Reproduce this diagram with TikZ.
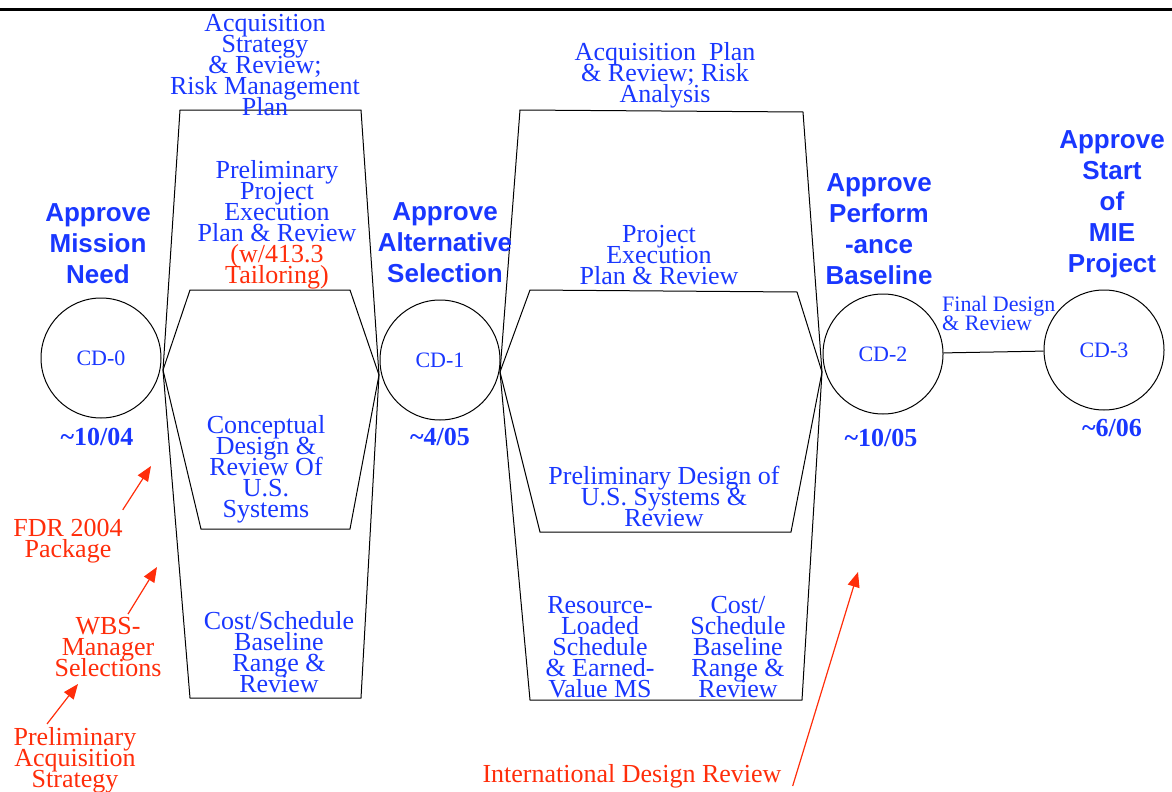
\documentclass[tikz,border=0pt]{standalone}
\usepackage{fontspec}
\setmainfont{Liberation Serif}
\newfontfamily\headfont{Liberation Sans}
\usepackage{tikz}
\usetikzlibrary{arrows.meta}

\definecolor{cdblue}{RGB}{25,55,255}
\definecolor{notered}{RGB}{255,45,10}

% tight line spacing, lines may touch
\newcommand{\tightlines}[2]{\fontsize{#1}{#2}\selectfont\lineskiplimit=-50pt\lineskip=0pt}

\begin{document}
\begin{tikzpicture}[x=1pt,y=-1pt,
    phase/.style={draw=black,line width=1pt},
    milestone/.style={circle,draw=black,line width=1pt,minimum size=120pt,inner sep=0pt,
        text=cdblue,font=\fontsize{22}{22}\selectfont},
    task/.style={align=center,inner sep=0pt,text=cdblue,font=\tightlines{26}{21}},
    approve/.style={align=center,inner sep=0pt,text=cdblue,font=\headfont\bfseries\fontsize{26}{31}\selectfont},
    date/.style={inner sep=0pt,text=cdblue,font=\bfseries\fontsize{26}{26}\selectfont},
    note/.style={align=center,inner sep=0pt,text=notered,font=\tightlines{26}{21}},
    notearrow/.style={draw=notered,line width=1.2pt,-{Triangle[length=15pt,width=12pt]}}]

    \useasboundingbox (0,0) rectangle (1172,792);

    % heavy rule along the top
    \draw[line width=3pt] (0,10) -- (1172,10);

    % CD-0 to CD-1 phase
    \draw[phase] (163,370) -- (180,110) -- (361,110) -- (379,375) -- (361,698) -- (190,698) -- cycle;
    \draw[phase] (163,370) -- (190,290) -- (350,290) -- (379,375) -- (350,529) -- (201,529) -- cycle;
    % CD-1 to CD-2 phase
    \draw[phase] (500,372) -- (520,110) -- (803,112) -- (822,372) -- (802,700) -- (530,700) -- cycle;
    \draw[phase] (500,372) -- (530,290) -- (797,292) -- (822,372) -- (791,532) -- (540,532) -- cycle;

    % critical decisions
    \node[milestone] (cd0) at (101,358) {CD-0};
    \node[milestone] (cd1) at (440,360) {CD-1};
    \node[milestone] (cd2) at (883,354) {CD-2};
    \node[milestone] (cd3) at (1104,350) {CD-3};
    \draw[line width=1pt] (cd2) -- (cd3);

    % approvals and dates
    \node[approve] (appr0) at (98,244) {Approve\\Mission\\Need};
    \node[approve] (appr1) at (445,243) {Approve\\Alternative\\Selection};
    \node[approve] (appr2) at (879,229) {Approve\\Perform\\-ance\\Baseline};
    \node[approve] (appr3) at (1112,204) {Approve\\Start\\of\\MIE\\Project};
    \node[date] (date0) at (97,437) {\textasciitilde10/04};
    \node[date] (date1) at (440,437) {\textasciitilde4/05};
    \node[date] (date2) at (881,438) {\textasciitilde10/05};
    \node[date] (date3) at (1112,428) {\textasciitilde6/06};

    % tasks, first phase
    \node[task] (acqstrat) at (265,65) {Acquisition\\Strategy\\\& Review;\\Risk Management\\Plan};
    \node[task] (prelimpep) at (277,225) {Preliminary\\Project\\Execution\\Plan \& Review\\
        \textcolor{notered}{(w/413.3}\\\textcolor{notered}{Tailoring)}};
    \node[task] (concept) at (266,469) {Conceptual\\Design \&\\Review Of\\U.S.\\Systems};
    \node[task] (costrange1) at (279,652) {Cost/Schedule\\Baseline\\Range \&\\Review};

    % tasks, second phase
    \node[task] (acqplan) at (665,75) {Acquisition\ \ Plan\\\& Review; Risk\\Analysis};
    \node[task] (pep) at (659,255) {Project\\Execution\\Plan \& Review};
    \node[task] (prelimdesign) at (664,496) {Preliminary Design of\\U.S. Systems \&\\Review};
    \node[task] (resource) at (600,647) {Resource-\\Loaded\\Schedule\\\& Earned-\\Value MS};
    \node[task] (costrange2) at (738,647) {Cost/\\Schedule\\Baseline\\Range \&\\Review};
    \node[task,align=left,anchor=west,font=\tightlines{22}{19}] (final) at (942,313) {Final Design\\\& Review};

    % red notes
    \node[note] (fdr) at (68,541) {FDR 2004\\Package};
    \node[note] (wbs) at (108,647) {WBS-\\Manager\\Selections};
    \node[note] (prelimacq) at (75,760) {Preliminary\\Acquisition\\Strategy};
    \node[note] (idr) at (632,776) {International Design Review};
    \coordinate (fdrtip) at (151,466);
    \coordinate (wbstip) at (157,567);
    \coordinate (prelimacqtip) at (78,684);
    \coordinate (idrtip) at (858,572);
    \draw[notearrow] ([shift={(0,-9)}]fdr.north east) -- (fdrtip);
    \draw[notearrow] ([shift={(20,-3)}]wbs.north) -- (wbstip);
    \draw[notearrow] ([shift={(-28,-3)}]prelimacq.north) -- (prelimacqtip);
    \draw[notearrow] ([shift={(11,10)}]idr.east) -- (idrtip);
\end{tikzpicture}
\end{document}
